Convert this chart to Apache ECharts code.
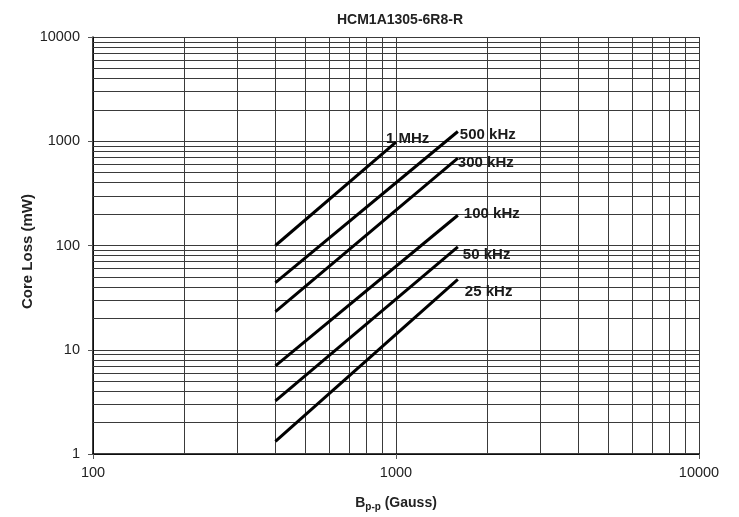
<!DOCTYPE html>
<html><head><meta charset="utf-8">
<script src="https://cdn.jsdelivr.net/npm/echarts@6/dist/echarts.min.js"></script>
<style>html,body{margin:0;padding:0;background:#fff}#c{width:739px;height:517px}</style>
</head><body><div id="c"></div>
<script>
// Data (Bp-p in Gauss, core loss in mW)
const seriesNames = ['1 MHz', '500 kHz', '300 kHz', '100 kHz', '50 kHz', '25 kHz'];
const xStart = [400, 400, 400, 400, 400, 400];
const xEnd   = [1000, 1600, 1600, 1600, 1600, 1600];
const yStart = [100, 44, 23.2, 7.0, 3.24, 1.32];
const yEnd   = [980, 1240, 690, 195, 97, 47.3];
const xTickLabels = [100, 1000, 10000];
const yTickLabels = [1, 10, 100, 1000, 10000];

const labelOffsets = [[-10, -3], [2, 3], [0, 5], [6, -1], [5, 8], [7, 12]];

const gridColor = '#3a3a3a';
function minorValues(min, max) {
  const out = [];
  for (let d = min; d < max; d *= 10) {
    for (let k = 2; k <= 9; k++) out.push(d * k);
  }
  return out;
}
const xMinor = minorValues(100, 10000);
const yMinor = minorValues(1, 10000);

const series = seriesNames.map((n, i) => ({
  name: n,
  type: 'line',
  symbol: 'none',
  data: [[xStart[i], yStart[i]], [xEnd[i], yEnd[i]]],
  lineStyle: { color: '#000', width: 3 },
  z: 5,
  endLabel: {
    show: true,
    formatter: n,
    distance: 0,
    offset: labelOffsets[i],
    fontFamily: 'Liberation Sans, Arial, sans-serif',
    fontWeight: 'bold',
    fontSize: 15,
    color: '#1a1a1a'
  }
}));

series.push({
  type: 'line',
  data: [],
  silent: true,
  z: 1,
  markLine: {
    silent: true,
    symbol: 'none',
    animation: false,
    label: { show: false },
    lineStyle: { color: gridColor, width: 1, type: 'solid' },
    data: xMinor.map(v => ({ xAxis: v })).concat(yMinor.map(v => ({ yAxis: v })))
  }
});

const chart = echarts.init(document.getElementById('c'));
chart.setOption({
  animation: false,
  backgroundColor: '#fff',
  textStyle: { fontFamily: 'Liberation Sans, Arial, sans-serif' },
  title: {
    text: 'HCM1A1305-6R8-R',
    left: 395, top: 8, textAlign: 'center',
    textStyle: { fontSize: 14, fontWeight: 'bold', color: '#222', fontFamily: 'Liberation Sans, Arial, sans-serif' }
  },
  grid: { left: 93, right: 40, top: 37, bottom: 62 },
  xAxis: {
    type: 'log', logBase: 10, min: 100, max: 10000,
    name: '{b|B}{s|p-p}{b| (Gauss)}',
    nameLocation: 'middle', nameGap: 40,
    nameTextStyle: {
      rich: {
        b: { fontSize: 14, fontWeight: 'bold', color: '#222', fontFamily: 'Liberation Sans, Arial, sans-serif' },
        s: { fontSize: 10, fontWeight: 'bold', color: '#222', padding: [8, 0, 0, 0], fontFamily: 'Liberation Sans, Arial, sans-serif' }
      }
    },
    axisLine: { show: true, lineStyle: { color: '#000', width: 1.5 } },
    axisTick: { show: true, inside: false, length: 5, lineStyle: { color: '#555' } },
    axisLabel: {
      fontSize: 14.5, color: '#222', margin: 11,
      formatter: v => (xTickLabels.includes(Math.round(v)) ? String(Math.round(v)) : '')
    },
    splitLine: { show: true, lineStyle: { color: gridColor, width: 1 } }
  },
  yAxis: {
    type: 'log', logBase: 10, min: 1, max: 10000,
    name: 'Core Loss (mW)',
    nameLocation: 'middle', nameGap: 58, nameMoveOverlap: false,
    nameTextStyle: { fontSize: 15, fontWeight: 'bold', color: '#222', padding: [0, 12, 0, 0] },
    axisLine: { show: true, lineStyle: { color: '#000', width: 1.5 } },
    axisTick: { show: true, inside: false, length: 5, lineStyle: { color: '#555' } },
    axisLabel: {
      fontSize: 14.5, color: '#222', margin: 13,
      formatter: v => (yTickLabels.includes(Math.round(v)) ? String(Math.round(v)) : '')
    },
    splitLine: { show: true, lineStyle: { color: gridColor, width: 1 } }
  },
  series: series
});
</script>
</body></html>
